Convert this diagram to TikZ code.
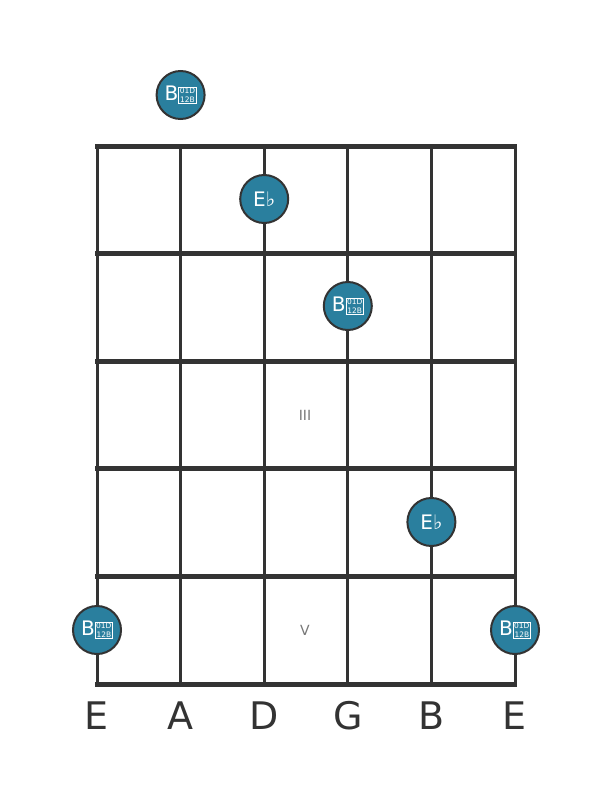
\documentclass[tikz,border=0pt]{standalone}
\usepackage{fontspec}
\setmainfont{DejaVu Sans}
\definecolor{notefill}{HTML}{2A7F9E}
\definecolor{gridline}{HTML}{333333}
\definecolor{fretmark}{HTML}{777777}

% box for the glyph the font does not have
\newcommand{\tofubox}{\raisebox{-2pt}{\setlength{\fboxsep}{0.8pt}\setlength{\fboxrule}{0.6pt}\fbox{\fontsize{7.5}{7}\selectfont\shortstack{01D\\12B}}}}

\begin{document}
\begin{tikzpicture}[x=1pt, y=-1pt,
    note/.style={circle, draw=gridline, line width=2pt, fill=notefill, minimum size=48pt, inner sep=0pt, text=white, font=\fontsize{20}{20}\selectfont},
    stringname/.style={text=gridline, font=\fontsize{38}{38}\selectfont},
    fretnum/.style={text=fretmark, font=\fontsize{14}{14}\selectfont}]
			\useasboundingbox (0,0) rectangle (611,801);

			% Draw strings and frets
			\foreach \s in {0,...,5}
				\draw[gridline, line width=3pt] ({97+83.6*\s},146) -- ({97+83.6*\s},684);
			\foreach \f in {0,...,5}
				\draw[gridline, line width=5pt] (95,{146+107.6*\f}) -- (517,{146+107.6*\f});

			% Macro for drawing a note.
			% Usage: \drawnote{name}{string}{y}{label}
			\newcommand{\drawnote}[4]{
				\node[note] (#1) at ({97+83.6*#2},#3) {#4};
			}

			\drawnote{open}{1}{95}{B\tofubox}
			\drawnote{eflatA}{2}{199}{E♭}
			\drawnote{bflatA}{3}{306}{B\tofubox}
			\drawnote{eflatB}{4}{522}{E♭}
			\drawnote{bflatB}{0}{630}{B\tofubox}
			\drawnote{bflatC}{5}{630}{B\tofubox}

			% Fret numbers
			\node[fretnum] (three) at (305,415) {III};
			\node[fretnum] (five) at (305,630) {V};

			% String names
			\foreach \n [count=\i from 0] in {E,A,D,G,B,E}
				\node[stringname] (name\i) at ({97+83.6*\i},716) {\n};
		\end{tikzpicture}
\end{document}
